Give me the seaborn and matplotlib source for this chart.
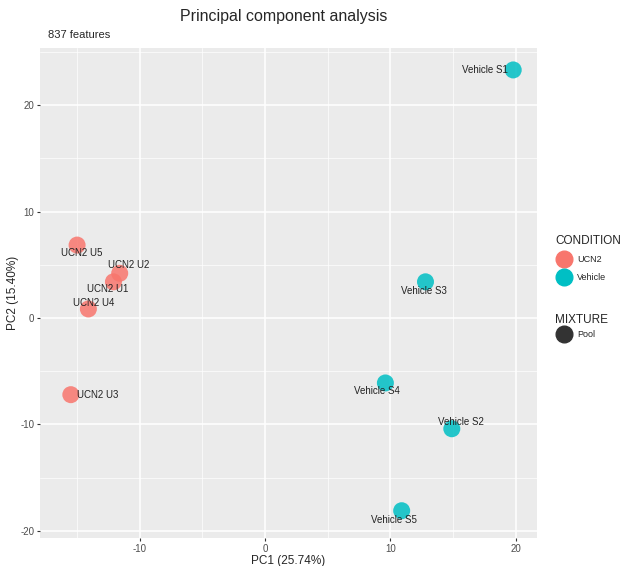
import matplotlib
matplotlib.use("Agg")
from matplotlib import pyplot as plt
from matplotlib.lines import Line2D
from matplotlib.ticker import MultipleLocator
import pandas as pd
import seaborn as sns

samples = ["UCN2 U1", "UCN2 U2", "UCN2 U3", "UCN2 U4", "UCN2 U5",
           "Vehicle S1", "Vehicle S2", "Vehicle S3", "Vehicle S4", "Vehicle S5"]
condition = ["UCN2"] * 5 + ["Vehicle"] * 5
pc1 = [-12.1, -11.6, -15.5, -14.1, -15.0, 19.8, 14.9, 12.8, 9.6, 10.9]
pc2 = [3.4, 4.2, -7.2, 0.85, 6.85, 23.3, -10.4, 3.4, -6.1, -18.1]

df = pd.DataFrame({"sample": samples, "CONDITION": condition, "PC1": pc1, "PC2": pc2})
palette = {"UCN2": "#F8766D", "Vehicle": "#00BFC4"}

sns.set_style("darkgrid", {"axes.facecolor": "#EBEBEB", "grid.color": "white"})
plt.rcParams['font.family'] = ['Liberation Sans', 'DejaVu Sans']
plt.rcParams['axes.unicode_minus'] = False

fig = plt.figure(figsize=(6.23, 5.66), dpi=100)
ax = fig.add_axes([0.064, 0.0495, 0.798, 0.8655])
sns.scatterplot(data=df, x="PC1", y="PC2", hue="CONDITION", palette=palette,
                s=150, alpha=0.85, linewidth=0, legend=False, ax=ax, zorder=3)

# label offsets (pixels) mimicking ggrepel placement
offsets = {"UCN2 U1": (-6, -7), "UCN2 U2": (9, 8), "UCN2 U3": (27, 0),
           "UCN2 U4": (5, 6), "UCN2 U5": (5, -8), "Vehicle S1": (-28, 0),
           "Vehicle S2": (9, 7), "Vehicle S3": (-2, -9), "Vehicle S4": (-8, -8),
           "Vehicle S5": (-8, -9)}
for _, r in df.iterrows():
    dx, dy = offsets[r["sample"]]
    ax.annotate(r["sample"], (r["PC1"], r["PC2"]), xytext=(dx * 0.72, dy * 0.72),
                textcoords="offset points", ha="center", va="center",
                fontsize=7, color="#222222", zorder=4)

ax.set_xlim(-17.97, 21.7)
ax.set_ylim(-20.66, 25.35)
ax.xaxis.set_major_locator(MultipleLocator(10))
ax.yaxis.set_major_locator(MultipleLocator(10))
ax.xaxis.set_minor_locator(MultipleLocator(5))
ax.yaxis.set_minor_locator(MultipleLocator(5))
ax.grid(which="major", color="white", linewidth=1.1)
ax.grid(which="minor", color="white", linewidth=0.5)
ax.tick_params(axis="both", which="major", labelsize=7, labelcolor="#4D4D4D",
               length=2.5, color="#333333", bottom=True, left=True, pad=1.5)
ax.tick_params(which="minor", length=0)
for sp in ax.spines.values():
    sp.set_visible(False)
ax.set_xlabel("PC1 (25.74%)", fontsize=8.5, labelpad=1)
ax.set_ylabel("PC2 (15.40%)", fontsize=8.5, labelpad=1)

fig.text(0.455, 0.971, "Principal component analysis", ha="center", va="center", fontsize=11.5)
fig.text(0.077, 0.938, "837 features", ha="left", va="center", fontsize=8)

h1 = [Line2D([], [], marker="o", linestyle="", markersize=12, color=palette[k], label=k)
      for k in ["UCN2", "Vehicle"]]
leg1 = fig.legend(handles=h1, title="CONDITION", loc="upper left",
                  bbox_to_anchor=(0.878, 0.6), frameon=False, fontsize=6.5,
                  title_fontsize=8.5, handletextpad=0.4, labelspacing=0.95)
leg1._legend_box.align = "left"
h2 = [Line2D([], [], marker="o", linestyle="", markersize=12, color="#333333", label="Pool")]
leg2 = fig.legend(handles=h2, title="MIXTURE", loc="upper left",
                  bbox_to_anchor=(0.878, 0.46), frameon=False, fontsize=6.5,
                  title_fontsize=8.5, handletextpad=0.4)
leg2._legend_box.align = "left"

fig.savefig("out.png", dpi=100)
